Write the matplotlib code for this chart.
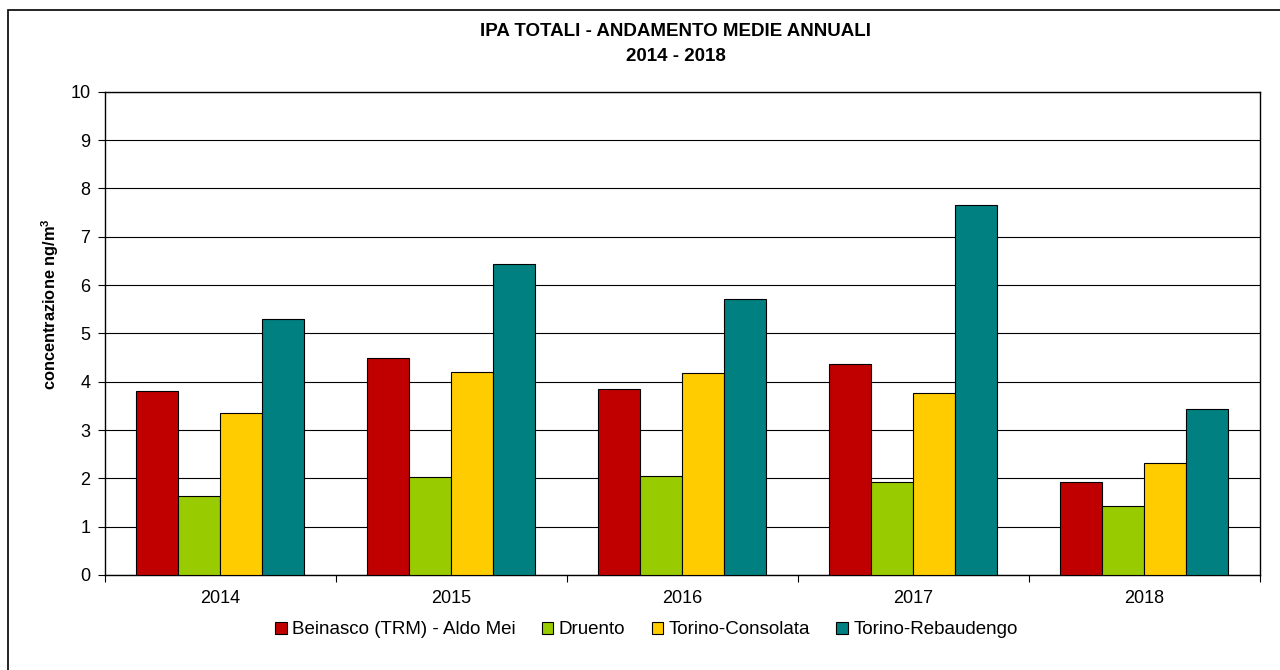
import matplotlib.pyplot as plt
from matplotlib.patches import Rectangle
import numpy as np

plt.rcParams['font.family'] = ['Liberation Sans', 'DejaVu Sans']

# dati: medie annuali IPA totali (ng/m3)
anni = ['2014', '2015', '2016', '2017', '2018']
stazioni = ['Beinasco (TRM) - Aldo Mei', 'Druento', 'Torino-Consolata', 'Torino-Rebaudengo']
beinasco = [3.81, 4.48, 3.84, 4.37, 1.92]
druento = [1.63, 2.02, 2.05, 1.92, 1.42]
consolata = [3.35, 4.21, 4.17, 3.76, 2.31]
rebaudengo = [5.30, 6.43, 5.72, 7.66, 3.44]
colori = ['#C00000', '#99CC00', '#FFCC00', '#008080']

serie = [beinasco, druento, consolata, rebaudengo]

fig = plt.figure(figsize=(12.8, 6.7), dpi=100)
ax = fig.add_axes([0.082, 0.1418, 0.902, 0.7213])

x = np.arange(len(anni))
w = 0.182
for i, (valori, nome, col) in enumerate(zip(serie, stazioni, colori)):
    ax.bar(x + (i - 1.5) * w, valori, width=w, color=col, edgecolor='black',
           linewidth=0.8, label=nome, zorder=3)

# griglia orizzontale
ax.set_ylim(0, 10)
ax.set_yticks(range(0, 11))
ax.yaxis.grid(True, color='black', linewidth=0.8, zorder=1)
ax.tick_params(axis='y', direction='out', length=5, labelsize=13, pad=5.5)

# asse x: tacche ai bordi delle categorie, etichette al centro
ax.set_xlim(-0.5, len(anni) - 0.5)
ax.set_xticks(np.arange(-0.5, len(anni), 1.0))
ax.set_xticklabels([])
ax.set_xticks(x, minor=True)
ax.set_xticklabels(anni, minor=True)
ax.tick_params(axis='x', which='major', direction='out', length=5)
ax.tick_params(axis='x', which='minor', length=0, labelsize=13, pad=11)

for s in ax.spines.values():
    s.set_linewidth(1.0)
    s.set_color('black')

ax.set_ylabel('concentrazione ng/m$^\\mathregular{3}$', fontsize=11.75, fontweight='bold')
ax.yaxis.set_label_coords(-0.038, 0.56)

fig.text(0.528, 0.9527, 'IPA TOTALI - ANDAMENTO MEDIE ANNUALI', ha='center', va='center',
         fontsize=13.5, fontweight='bold')
fig.text(0.528, 0.9164, '2014 - 2018', ha='center', va='center', fontsize=13.5, fontweight='bold')

fig.legend(loc='center', bbox_to_anchor=(0.505, 0.06), ncol=4, frameon=False,
           fontsize=13.5, handlelength=0.6, handleheight=0.6, handletextpad=0.3,
           columnspacing=1.4)

# cornice esterna (lati destro e inferiore fuori dall'immagine)
fig.patches.append(Rectangle((0.0063, -0.1), 1.1, 1.0858, transform=fig.transFigure,
                             fill=False, edgecolor='black', linewidth=1.2, clip_on=False))

fig.savefig('out.png', dpi=100)
